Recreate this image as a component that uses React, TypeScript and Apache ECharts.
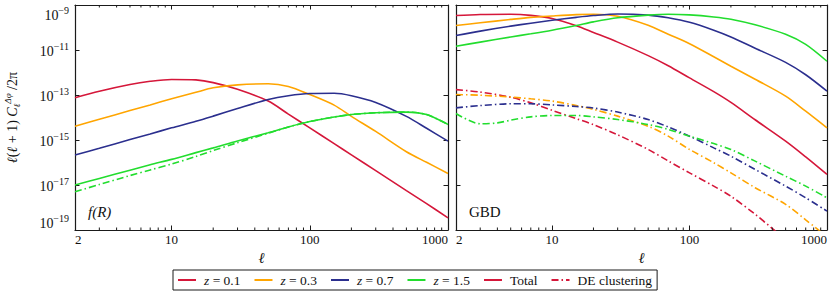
import React, { useEffect, useRef } from 'react';
import * as echarts from 'echarts';

// multipole grid (shared by most curves)
const ell = [2, 3, 5, 7, 10, 15, 20, 30, 50, 70, 100, 150, 200, 300, 500, 700, 1000];
const ellGreenDE = [2, 3, 4, 5, 7, 10, 15, 20, 30, 50, 70, 100, 150, 200, 300, 500, 700, 1000];

// f(R) panel, total signal
const fr_z01 = [7.6e-14, 1.48e-13, 2.95e-13, 4.07e-13, 4.9e-13, 4.68e-13, 3.55e-13, 1.78e-13, 5.37e-14, 1.41e-14, 3.47e-15, 6.92e-16, 2.19e-16, 4.37e-17, 5.62e-18, 1.48e-18, 3.47e-19];
const fr_z03 = [4.07e-15, 8.32e-15, 2.04e-14, 3.63e-14, 6.76e-14, 1.32e-13, 2.09e-13, 2.82e-13, 3.16e-13, 2.4e-13, 1.05e-13, 3.55e-14, 1.12e-14, 2.4e-15, 3.02e-16, 1.02e-16, 3.24e-17];
const fr_z07 = [2.14e-16, 4.27e-16, 1.05e-15, 1.86e-15, 3.47e-15, 6.76e-15, 1.15e-14, 2.51e-14, 6.31e-14, 9.33e-14, 1.17e-13, 1.2e-13, 9.33e-14, 4.68e-14, 1.12e-14, 3.31e-15, 8.91e-16];
const fr_z15 = [1e-17, 1.95e-17, 4.57e-17, 7.94e-17, 1.38e-16, 2.75e-16, 4.47e-16, 9.12e-16, 2.09e-15, 3.8e-15, 6.61e-15, 1.05e-14, 1.35e-14, 1.62e-14, 1.74e-14, 1.35e-14, 4.9e-15];
// f(R) panel, DE clustering (visible only for z = 1.5)
const fr_de_z15 = [5.01e-18, 1.05e-17, 2.63e-17, 4.68e-17, 8.51e-17, 1.86e-16, 3.39e-16, 7.59e-16, 2.0e-15, 3.8e-15, 6.61e-15, 1.05e-14, 1.35e-14, 1.62e-14, 1.74e-14, 1.35e-14, 4.9e-15];

// GBD panel, total signal
const gbd_z01 = [3.39e-10, 3.8e-10, 3.89e-10, 3.47e-10, 2.51e-10, 1.2e-10, 6.03e-11, 2.24e-11, 5.62e-12, 2.0e-12, 5.75e-13, 1.41e-13, 4.68e-14, 7.94e-15, 8.91e-16, 1.78e-16, 2.95e-17];
const gbd_z03 = [1.23e-10, 1.62e-10, 2.29e-10, 2.82e-10, 3.24e-10, 3.72e-10, 3.89e-10, 3.16e-10, 1.26e-10, 5.01e-11, 1.91e-11, 5.01e-12, 1.91e-12, 5.01e-13, 8.91e-14, 1.91e-14, 3.47e-15];
const gbd_z07 = [4.37e-11, 6.92e-11, 1.15e-10, 1.55e-10, 2.09e-10, 2.82e-10, 3.39e-10, 3.98e-10, 3.55e-10, 2.69e-10, 1.7e-10, 7.59e-11, 3.8e-11, 1.2e-11, 2.82e-12, 7.94e-13, 1.48e-13];
const gbd_z15 = [1.48e-11, 2.24e-11, 3.8e-11, 5.25e-11, 7.59e-11, 1.23e-10, 1.78e-10, 2.69e-10, 3.55e-10, 3.89e-10, 3.63e-10, 2.95e-10, 2.34e-10, 1.32e-10, 5.01e-11, 1.78e-11, 3.16e-12];
// GBD panel, DE clustering
const gbd_de_z01 = [1.74e-13, 1.35e-13, 7.94e-14, 4.47e-14, 2.09e-14, 8.91e-15, 4.79e-15, 1.7e-15, 3.8e-16, 1.17e-16, 3.47e-17, 8.91e-18, 3.16e-18, 5.01e-19, 3.98e-20, 1.26e-20, 2.51e-21];
const gbd_de_z03 = [1.05e-13, 9.77e-14, 8.13e-14, 6.76e-14, 5.37e-14, 3.39e-14, 2.29e-14, 1.15e-14, 4.07e-15, 1.48e-15, 3.8e-16, 9.77e-17, 3.47e-17, 7.59e-18, 1.38e-18, 2.82e-19, 5.01e-20];
const gbd_de_z07 = [2.69e-14, 3.39e-14, 4.07e-14, 4.07e-14, 3.63e-14, 3.09e-14, 2.63e-14, 1.74e-14, 8.13e-15, 3.8e-15, 1.48e-15, 4.47e-16, 1.91e-16, 4.9e-17, 8.91e-18, 2.69e-18, 6.92e-19];
const gbd_de_z15 = [1.51e-14, 5.25e-15, 5.75e-15, 7.59e-15, 1.07e-14, 1.23e-14, 1.23e-14, 1.07e-14, 8.13e-15, 4.9e-15, 2.95e-15, 1.48e-15, 6.92e-16, 3.8e-16, 1.15e-16, 2.45e-17, 8.91e-18, 2.69e-18];

const legendNames = ['z = 0.1', 'z = 0.3', 'z = 0.7', 'z = 1.5', 'Total', 'DE clustering'];
const xMinorTicks = [3, 4, 5, 6, 7, 8, 9, 20, 30, 40, 50, 60, 70, 80, 90, 200, 300, 400, 500, 600, 700, 800, 900];
const panelLabels = ['f(R)', 'GBD'];

const RED = '#d5173a';
const ORANGE = '#ffa500';
const NAVY = '#2b2f8e';
const GREEN = '#22dd2e';
const INK = '#1a1a1a';
const FONT = '"Liberation Serif", "DejaVu Serif", serif';
const DASHDOT = [7, 3, 1.5, 3];

const pairs = (xs: number[], ys: number[]) => xs.map((x, i) => [x, ys[i]]);

function xAxisDef(gridIndex: number, position: string, showLabel: boolean) {
  return {
    type: 'log',
    logBase: 10,
    gridIndex,
    position,
    min: 2,
    max: 1000,
    axisLine: { show: true, onZero: false, lineStyle: { color: INK, width: 1.2 } },
    axisTick: { show: true, inside: true, length: 4.5, lineStyle: { color: INK, width: 1 } },
    splitLine: { show: false },
    minorTick: { show: false },
    axisLabel: {
      show: showLabel,
      fontFamily: FONT,
      fontSize: 13,
      color: '#111',
      margin: 3,
      showMinLabel: true,
      showMaxLabel: true,
      alignMinLabel: 'left',
      alignMaxLabel: 'right',
      formatter: (v: number) => String(Math.round(v)),
    },
    name: showLabel ? 'ℓ' : '',
    nameLocation: 'middle',
    nameGap: 19,
    nameTextStyle: { fontFamily: FONT, fontSize: 15, fontStyle: 'italic', color: '#111' },
  };
}

function yAxisDef(gridIndex: number, position: string, showLabel: boolean, withName: boolean) {
  return {
    type: 'log',
    logBase: 10,
    gridIndex,
    position,
    min: 1e-19,
    max: 1e-9,
    interval: 2,
    axisLine: { show: true, onZero: false, lineStyle: { color: INK, width: 1.2 } },
    axisTick: { show: true, inside: true, length: 4.5, lineStyle: { color: INK, width: 1 } },
    splitLine: { show: false },
    axisLabel: {
      show: showLabel,
      margin: 6,
      showMinLabel: true,
      showMaxLabel: true,
      verticalAlignMinLabel: 'bottom',
      verticalAlignMaxLabel: 'top',
      formatter: (v: number) => {
        const e = Math.round(Math.log10(v));
        return `{b|10}{s|${e < 0 ? '−' : ''}${Math.abs(e)}}`;
      },
      rich: {
        b: { fontFamily: FONT, fontSize: 14, color: '#111', lineHeight: 17, verticalAlign: 'bottom' },
        s: { fontFamily: FONT, fontSize: 10, color: '#111', lineHeight: 10, verticalAlign: 'top' },
      },
    },
    name: withName ? '{i|ℓ}{r|(}{i|ℓ}{r| + 1) }{i|C}{sb|ℓ}{sp|Δφ}{r| /2π}' : '',
    nameLocation: 'middle',
    nameGap: 54,
    nameRotate: 90,
    nameTextStyle: {
      rich: {
        i: { fontFamily: FONT, fontSize: 14, fontStyle: 'italic', color: '#111', lineHeight: 18, verticalAlign: 'middle' },
        r: { fontFamily: FONT, fontSize: 14, color: '#111', lineHeight: 18, verticalAlign: 'middle' },
        sb: { fontFamily: FONT, fontSize: 9, fontStyle: 'italic', color: '#111', lineHeight: 9, verticalAlign: 'bottom' },
        sp: { fontFamily: FONT, fontSize: 9, fontStyle: 'italic', color: '#111', lineHeight: 9, verticalAlign: 'top' },
      },
    },
  };
}

function line(name: string, xi: number, data: number[][], color: string, dashed: boolean) {
  return {
    type: 'line',
    name,
    xAxisIndex: xi,
    yAxisIndex: xi,
    data,
    color,
    symbol: 'none',
    smooth: 0.3,
    clip: true,
    silent: true,
    lineStyle: { color, width: 1.6, type: dashed ? DASHDOT : 'solid' },
    z: 3,
  };
}

function minorTickSeries(xi: number) {
  return {
    type: 'custom',
    name: '__minor' + xi,
    xAxisIndex: xi,
    yAxisIndex: xi,
    silent: true,
    clip: false,
    z: 5,
    data: xMinorTicks.map((v) => [v, 1e-14]),
    renderItem: (params: any, api: any) => {
      const x = api.coord([api.value(0), 1e-14])[0];
      const cs = params.coordSys;
      const st = { stroke: INK, lineWidth: 1 };
      return {
        type: 'group',
        children: [
          { type: 'line', shape: { x1: x, y1: cs.y + cs.height, x2: x, y2: cs.y + cs.height - 2.5 }, style: st },
          { type: 'line', shape: { x1: x, y1: cs.y, x2: x, y2: cs.y + 2.5 }, style: st },
        ],
      };
    },
  };
}

export default function App() {
  const ref = useRef<HTMLDivElement>(null);
  useEffect(() => {
    if (!ref.current) return;
    const chart = echarts.init(ref.current, undefined, { renderer: 'svg' });
    const option: any = {
      animation: false,
      backgroundColor: '#ffffff',
      grid: [
        { left: 75, top: 5, right: 382, bottom: 73 },
        { left: 456, top: 5, right: 1, bottom: 73 },
      ],
      xAxis: [
        xAxisDef(0, 'bottom', true),
        xAxisDef(1, 'bottom', true),
        xAxisDef(0, 'top', false),
        xAxisDef(1, 'top', false),
      ],
      yAxis: [
        yAxisDef(0, 'left', true, true),
        yAxisDef(1, 'left', false, false),
        yAxisDef(0, 'right', false, false),
        yAxisDef(1, 'right', false, false),
      ],
      legend: {
        data: legendNames,
        left: 173,
        top: 270,
        orient: 'horizontal',
        itemWidth: 18,
        itemHeight: 1,
        itemGap: 13,
        padding: [3, 5, 3, 4],
        borderColor: INK,
        borderWidth: 1,
        borderRadius: 0,
        selectedMode: false,
        formatter: (name: string) =>
          name.startsWith('z') ? `{i|z}{r|${name.slice(1)}}` : `{r|${name}}`,
        textStyle: {
          padding: [0, 0, 0, 3],
          rich: {
            i: { fontFamily: FONT, fontSize: 13.5, fontStyle: 'italic', color: '#111', lineHeight: 15 },
            r: { fontFamily: FONT, fontSize: 13.5, color: '#111', lineHeight: 15 },
          },
        },
      },
      graphic: [
        { type: 'text', left: 88, top: 204, style: { text: panelLabels[0], font: 'italic 15px "Liberation Serif"', fill: '#111' } },
        { type: 'text', left: 469, top: 204, style: { text: panelLabels[1], font: '15px "Liberation Serif"', fill: '#111' } },
      ],
      series: [
        line('z = 0.1', 0, pairs(ell, fr_z01), RED, false),
        line('z = 0.3', 0, pairs(ell, fr_z03), ORANGE, false),
        line('z = 0.7', 0, pairs(ell, fr_z07), NAVY, false),
        line('z = 1.5', 0, pairs(ell, fr_z15), GREEN, false),
        line('Total', 1, pairs(ell, gbd_z01), RED, false),
        line('z = 0.3', 1, pairs(ell, gbd_z03), ORANGE, false),
        line('z = 0.7', 1, pairs(ell, gbd_z07), NAVY, false),
        line('z = 1.5', 1, pairs(ell, gbd_z15), GREEN, false),
        line('DE clustering', 1, pairs(ell, gbd_de_z01), RED, true),
        line('DE clustering', 1, pairs(ell, gbd_de_z03), ORANGE, true),
        line('DE clustering', 1, pairs(ell, gbd_de_z07), NAVY, true),
        line('DE clustering', 1, pairs(ellGreenDE, gbd_de_z15), GREEN, true),
        line('DE clustering', 0, pairs(ell, fr_de_z15), GREEN, true),
        minorTickSeries(0),
        minorTickSeries(1),
      ],
    };
    chart.setOption(option);
    return () => chart.dispose();
  }, []);
  return (
    <div
      ref={ref}
      style={{ position: 'absolute', left: 0, top: 0, width: 830, height: 303, background: '#fff' }}
    />
  );
}
